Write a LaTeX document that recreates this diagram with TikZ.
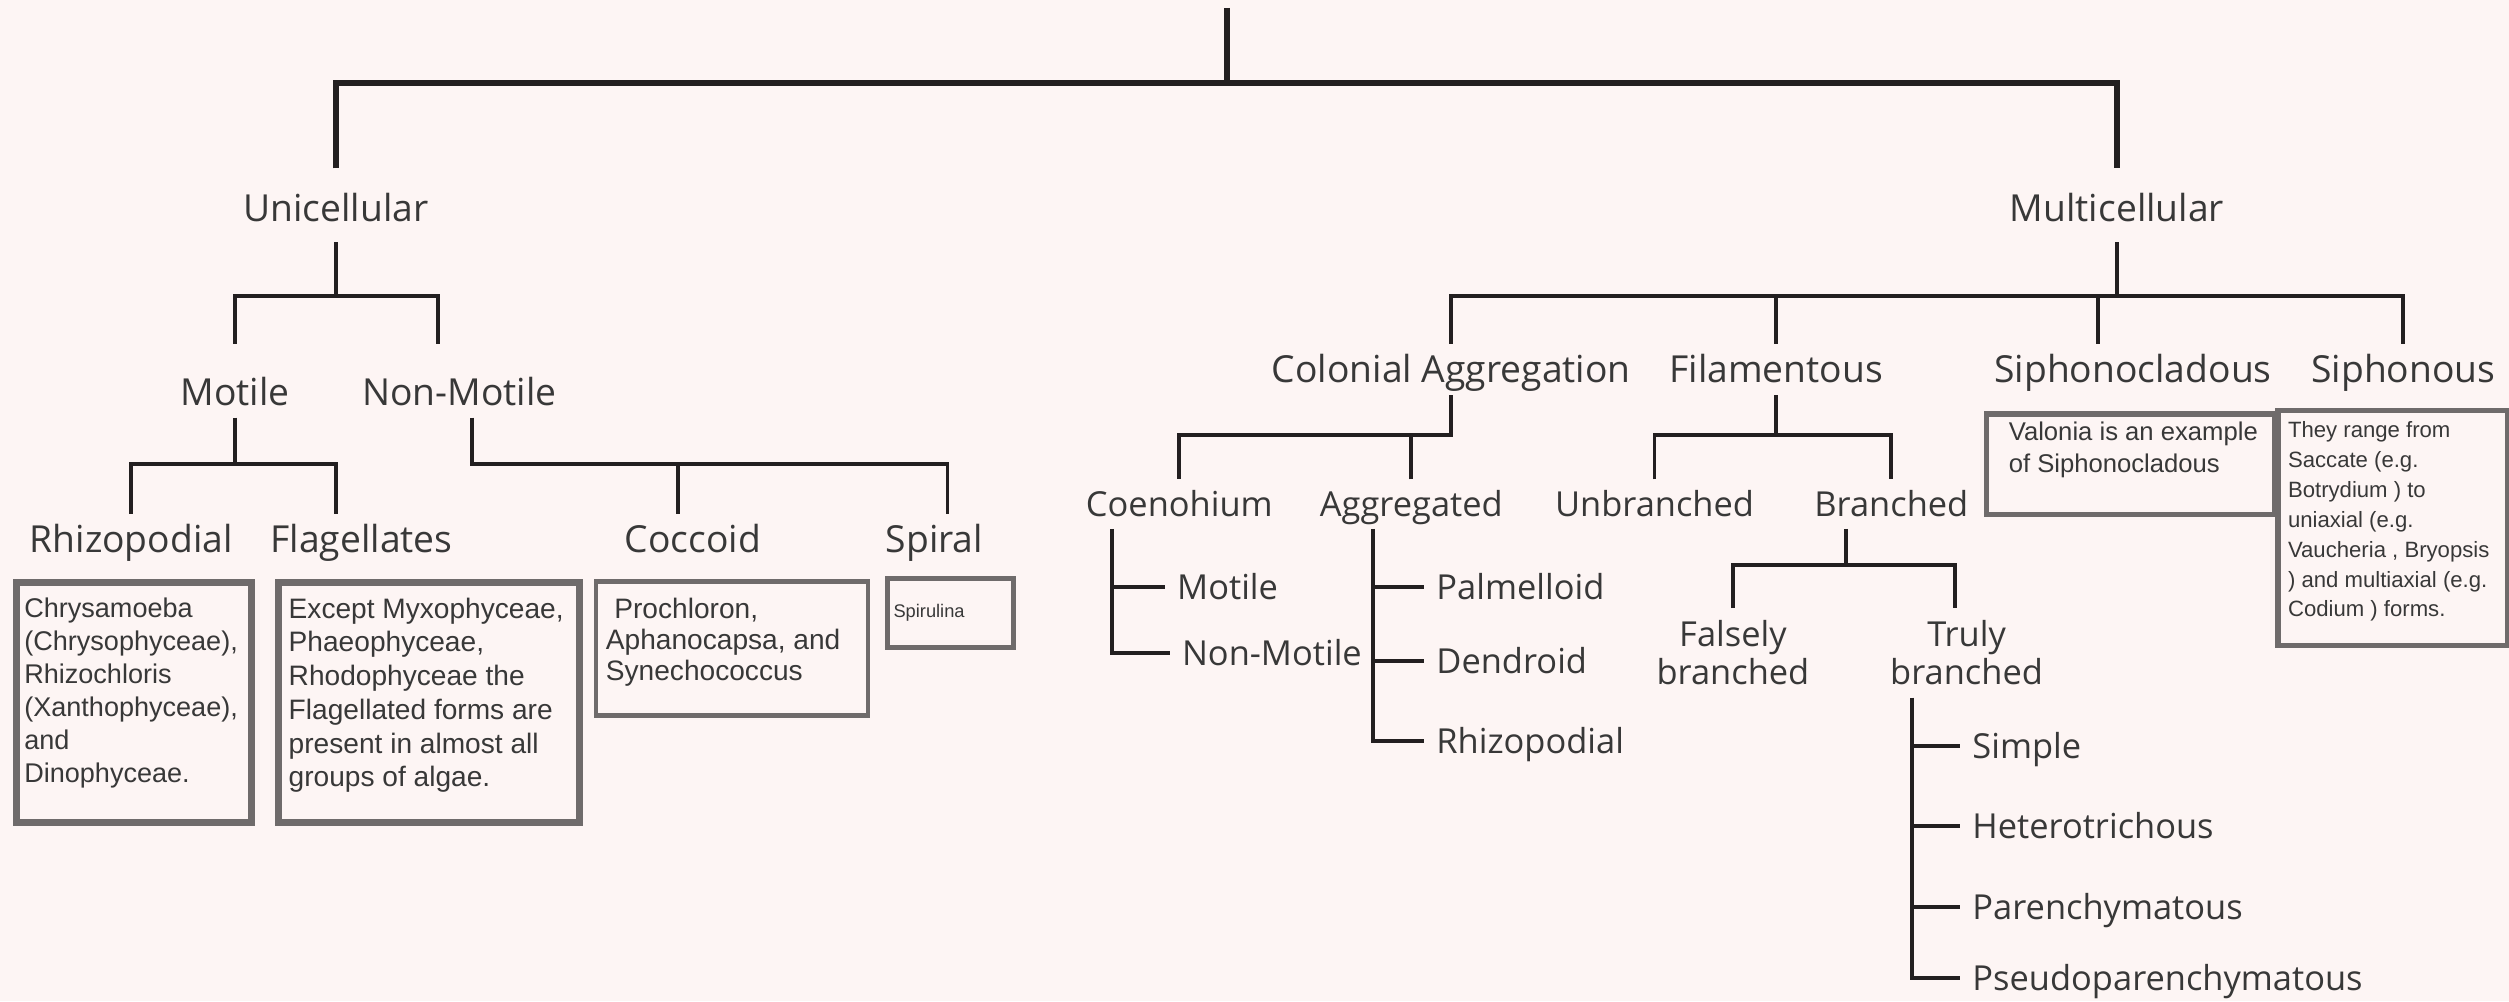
\documentclass[tikz,border=0pt]{standalone}
\usepackage{fontspec}
\setmainfont{Open Sans}
\newfontfamily\notefont{Liberation Sans}
\usepackage{tikz}

\definecolor{bgpink}{HTML}{FDF5F4}
\definecolor{linedark}{HTML}{231F20}
\definecolor{txtgray}{HTML}{383838}
\definecolor{boxgray}{HTML}{6F6B6B}

\newcommand{\notepar}[4][t]{\parbox[c][#3][#1]{#2}{\raggedright #4}}

\begin{document}
\begin{tikzpicture}[x=0.016cm,y=-0.016cm,
        lbl/.style={font=\fontsize{10.6}{11.6}\selectfont,text=txtgray,inner sep=1pt,outer sep=2.5pt,text height=7.6pt,text depth=0pt},
        sub/.style={lbl,font=\fontsize{9.8}{10.9}\selectfont,text height=7.1pt},
        lbl2/.style={font=\fontsize{9.8}{10.9}\selectfont,text=txtgray,inner sep=1pt,outer sep=2.5pt,align=center},
        item/.style={sub,anchor=west},
        note/.style={draw=boxgray,anchor=north west,inner xsep=.1cm,inner ysep=.15cm,text=txtgray,line width=1.3pt},
        trunk/.style={draw=linedark,line width=1.8pt},
        branch/.style={draw=linedark,line width=1.1pt}]
        %   \tikzstyle{every node}=[draw=red]

        \fill[bgpink] (0,0) rectangle (1568,625.6);
        \useasboundingbox (0,0) rectangle (1568,625.6);

        \node[lbl]  (uni) at (210,130)  {Unicellular};
        \node[lbl]  (mul) at (1323,130) {Multicellular};
        \node[lbl]  (mot) at (147,245)  {Motile};
        \node[lbl]  (nmo) at (287,245)  {Non-Motile};
        \node[lbl]  (rhz) at (82,337)   {Rhizopodial};
        \node[lbl]  (flg) at (226,337)  {Flagellates};
        \node[lbl]  (coc) at (433,337)  {Coccoid};
        \node[lbl]  (spi) at (584,337)  {Spiral};
        \node[lbl]  (col) at (907,231)  {Colonial Aggregation};
        \node[lbl]  (fil) at (1110,231) {Filamentous};
        \node[lbl]  (scl) at (1333,231) {Siphonocladous};
        \node[lbl]  (sph) at (1502,231) {Siphonous};
        \node[sub]  (cnh) at (737,315)  {Coenohium};
        \node[sub]  (agg) at (882,315)  {Aggregated};
        \node[sub]  (unb) at (1034,315) {Unbranched};
        \node[sub]  (brn) at (1182,315) {Branched};
        \node[lbl2] (fal) at (1083,408) {Falsely\\branched};
        \node[lbl2] (tru) at (1229,408) {Truly\\branched};

        \node[item] (cmo) at (728,367)  {Motile};
        \node[item] (cnm) at (731,408)  {Non-Motile};
        \node[item] (pal) at (890,367)  {Palmelloid};
        \node[item] (den) at (890,413)  {Dendroid};
        \node[item] (arz) at (890,463)  {Rhizopodial};
        \node[item] (sim) at (1225,466) {Simple};
        \node[item] (het) at (1225,516) {Heterotrichous};
        \node[item] (par) at (1225,567) {Parenchymatous};
        \node[item] (psd) at (1225,611) {Pseudoparenchymatous};

        \node[note,line width=2pt,inner xsep=.08cm,font=\notefont\fontsize{7.7}{9.4}\selectfont] (rhznote) at (8,362)
            {\notepar{2.19cm}{2.1cm}{Chrysamoeba\\(Chrysophyceae),\\Rhizochloris\\(Xanthophyceae),\\and\\Dinophyceae.}};
        \node[note,line width=2pt,font=\notefont\fontsize{8}{9.6}\selectfont] (flgnote) at (172,362)
            {\notepar{2.81cm}{2.1cm}{Except Myxophyceae,\\Phaeophyceae,\\Rhodophyceae the\\Flagellated forms are\\present in almost all\\groups of algae.}};
        \node[note,inner ysep=.17cm,font=\notefont\fontsize{8}{8.7}\selectfont] (cocnote) at (371,362)
            {\notepar{2.52cm}{1cm}{\hspace*{.3em}Prochloron,\\Aphanocapsa, and\\Synechococcus}};
        \node[note,line width=1.5pt,inner xsep=.06cm,inner ysep=.05cm,font=\notefont\fontsize{5.2}{6}\selectfont] (spinote) at (553,360)
            {\notepar[c]{1.14cm}{.59cm}{Spirulina}};
        \node[note,line width=1.5pt,inner ysep=.08cm,font=\notefont\fontsize{7.3}{9}\selectfont] (sclnote) at (1240,257)
            {\notepar{2.68cm}{.85cm}{\leftskip=.12cm Valonia is an example\\of Siphonocladous}};
        \node[note,line width=1.5pt,inner ysep=.11cm,font=\notefont\fontsize{6.3}{8.5}\selectfont] (sphnote) at (1422,255)
            {\notepar{2.1cm}{2.13cm}{They range from\\Saccate (e.g.\\Botrydium ) to\\uniaxial (e.g.\\Vaucheria , Bryopsis\\) and multiaxial (e.g.\\Codium ) forms.}};

        \coordinate (root) at (767,5);
        \coordinate (topbar) at (767,52);
        \draw[trunk] (root) -- (topbar);
        \draw[trunk,shorten <=4pt,shorten >=4pt] (uni.north) |- (topbar) -| (mul.north);

        \draw[branch,shorten <=2.5pt] (uni.south) -- (uni.south |- 0,185);
        \draw[branch,shorten <=6.4pt,shorten >=6.4pt] (mot.north) |- (uni.south |- 0,185) -| ([xshift=-.21cm]nmo.north);
        \draw[branch] (mot.south) -- (mot.south |- 0,290);
        \draw[branch] (rhz.north) |- (mot.south |- 0,290) -| ([xshift=-.26cm]flg.north);
        \draw[branch] ([xshift=.13cm]nmo.south) |- ([xshift=.13cm]spi.north |- 0,290) -- ([xshift=.13cm]spi.north);
        \draw[branch] ([xshift=-.15cm]coc.north) -- ([xshift=-.15cm]coc.north |- 0,290);

        \draw[branch,shorten <=2.5pt] (mul.south) -- (mul.south |- 0,185);
        \draw[branch] (col.north) |- (mul.south |- 0,185) -| (sph.north);
        \draw[branch] (fil.north) -- (fil.north |- 0,185);
        \draw[branch] ([xshift=-.35cm]scl.north) -- ([xshift=-.35cm]scl.north |- 0,185);

        \draw[branch] (col.south) -- (col.south |- 0,272) -| (cnh.north);
        \draw[branch] (agg.north) -- (agg.north |- 0,272);
        \draw[branch] (fil.south) -- (fil.south |- 0,272);
        \draw[branch] (unb.north) |- (fil.south |- 0,272) -| (brn.north);

        \coordinate (brnstem) at ([xshift=-.45cm]brn.south);
        \draw[branch] (brnstem) -- (brnstem |- 0,353);
        \draw[branch] (fal.north) |- (brnstem |- 0,353) -| ([xshift=-.12cm]tru.north);

        \coordinate (cnhstem) at ([xshift=-.67cm]cnh.south);
        \draw[branch] (cnhstem) |- (cnm.west);
        \draw[branch] (cnhstem |- cmo.west) -- (cmo.west);

        \coordinate (aggstem) at ([xshift=-.38cm]agg.south);
        \draw[branch] (aggstem) |- (arz.west);
        \draw[branch] (aggstem |- pal.west) -- (pal.west);
        \draw[branch] (aggstem |- den.west) -- (den.west);

        \coordinate (trustem) at ([xshift=-.55cm]tru.south);
        \draw[branch] (trustem) |- (psd.west);
        \draw[branch] (trustem |- sim.west) -- (sim.west);
        \draw[branch] (trustem |- het.west) -- (het.west);
        \draw[branch] (trustem |- par.west) -- (par.west);
    \end{tikzpicture}
\end{document}
